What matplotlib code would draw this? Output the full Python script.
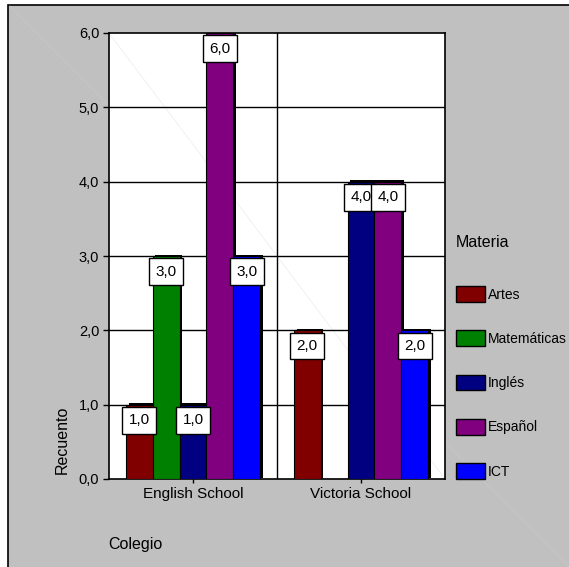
import matplotlib
matplotlib.use("Agg")
import matplotlib.pyplot as plt
import matplotlib.patheffects as pe
from matplotlib.patches import Rectangle
from matplotlib.lines import Line2D
import numpy as np

plt.rcParams['font.family'] = ['Liberation Sans', 'DejaVu Sans']

# Recuento de alumnos por colegio y materia
colegios = ['English School', 'Victoria School']
materias = ['Artes', 'Matemáticas', 'Inglés', 'Español', 'ICT']
english_school = [1, 3, 1, 6, 3]
victoria_school = [2, 0, 4, 4, 2]
colores = ['#800000', '#008000', '#000080', '#800080', '#0000ff']
y_ticks = [0, 1, 2, 3, 4, 5, 6]

recuentos = np.array([english_school, victoria_school])

fig = plt.figure(figsize=(5.69, 5.67), dpi=100)
fig.patch.set_facecolor('white')

# fondo gris con borde
fig.patches.append(Rectangle((8 / 569, -0.05), 1.1, 1 - 5 / 567 + 0.05,
                             transform=fig.transFigure, facecolor='#c0c0c0',
                             edgecolor='black', linewidth=1.2, zorder=-10))
fig.lines.append(Line2D([10 / 569, 1.0], [1 - 6 / 567, 0.0], transform=fig.transFigure,
                        color='#c8c8c8', linewidth=0.5, zorder=-9))

ax = fig.add_axes([109 / 569, 1 - 479 / 567, 336 / 569, 446 / 567])
ax.set_facecolor('white')
ax.plot([0, 1], [1, 0], transform=ax.transAxes, color='#f0eaf0', lw=0.5, zorder=0)

width = 0.16
x = np.arange(len(colegios))
sombra = [pe.SimplePatchShadow(offset=(2, 1), shadow_rgbFace='black', alpha=1), pe.Normal()]

for j, (materia, color) in enumerate(zip(materias, colores)):
    pos = x + (j - 2) * width
    valores = recuentos[:, j]
    barras = ax.bar(pos, valores, width, color=color, edgecolor='black',
                    linewidth=0.8, label=materia, zorder=3)
    for b, v in zip(barras, valores):
        if v > 0:
            b.set_path_effects(sombra)
    for p, v in zip(pos, valores):
        if v > 0:
            ax.text(p, v - 0.21, f"{v:.1f}".replace('.', ','), ha='center', va='center',
                    fontsize=11, zorder=6,
                    bbox=dict(boxstyle='square,pad=0.42', facecolor='white',
                              edgecolor='black', linewidth=1))

ax.set_xlim(-0.5, 1.5)
ax.set_ylim(0, 6)
ax.set_yticks(y_ticks)
ax.set_yticklabels([f"{t:.1f}".replace('.', ',') for t in y_ticks], fontsize=10.5)
ax.set_xticks(x)
ax.set_xticklabels(colegios, fontsize=11)
ax.tick_params(axis='y', length=4, width=1, pad=3)
ax.tick_params(axis='x', length=3, width=1, pad=3)

for t in y_ticks[1:-1]:
    ax.axhline(t, color='black', linewidth=1, zorder=1)
ax.axvline(0.5, color='black', linewidth=1, zorder=1)
for s in ax.spines.values():
    s.set_linewidth(1.2)

fig.text(62 / 569, 1 - 440 / 567, 'Recuento', rotation=90, ha='center', va='center', fontsize=11.5)
fig.text(108 / 569, 1 - 545 / 567, 'Colegio', ha='left', va='center', fontsize=11.5)

leg = ax.legend(loc='upper left', bbox_to_anchor=(456 / 569, 1 - 235 / 567),
                bbox_transform=fig.transFigure, frameon=False, fontsize=10,
                title='Materia', title_fontsize=11.5, handlelength=2.1,
                handleheight=1.37, handletextpad=0.2, labelspacing=2.05,
                borderpad=0, borderaxespad=0, alignment='left')
for h in leg.legend_handles:
    h.set_path_effects([])
    h.set_linewidth(1)
leg._legend_box.sep = 26

fig.savefig('out.png', dpi=100, facecolor=fig.get_facecolor())
